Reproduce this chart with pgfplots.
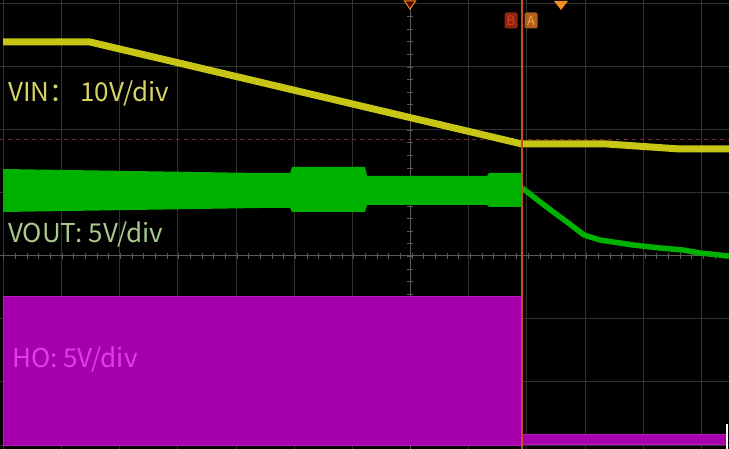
\documentclass[border=0pt]{standalone}
\usepackage{pgfplots}
\pgfplotsset{compat=1.18}
\usepackage{fontspec}
\setmainfont{Noto Sans CJK SC}
\definecolor{gridgray}{RGB}{50,50,50}
\definecolor{centergray}{RGB}{90,90,90}
\definecolor{vinc}{RGB}{200,198,20}
\definecolor{vinlab}{RGB}{214,212,100}
\definecolor{voutc}{RGB}{0,178,0}
\definecolor{voutlab}{RGB}{168,200,140}
\definecolor{hoc}{RGB}{166,0,172}
\definecolor{hoedge}{RGB}{190,20,196}
\definecolor{holab}{RGB}{226,60,230}
\definecolor{cursorc}{RGB}{200,74,40}
\definecolor{dashc}{RGB}{125,40,40}
\definecolor{trigc}{RGB}{240,140,32}
\definecolor{boxB}{RGB}{140,40,16}
\definecolor{boxBt}{RGB}{214,64,32}
\definecolor{boxA}{RGB}{176,96,26}
\definecolor{boxAt}{RGB}{240,168,70}
\begin{document}
\begin{tikzpicture}
\path[use as bounding box] (0,0) rectangle (729pt,449pt);
\begin{axis}[
  at={(0,0)}, anchor=south west,
  scale only axis, width=729pt, height=449pt,
  xmin=0, xmax=729, ymin=0, ymax=449, y dir=reverse,
  axis background/.style={fill=black},
  axis line style={draw=none},
  xtick={3,61.3,119.6,177.9,236.2,294.5,352.8,410.1,468.4,526.7,585,643.3,701.6},
  ytick={3,66.1,129.3,192.4,255.6,318.7,381.9,445},
  xticklabels={}, yticklabels={},
  tick style={draw=none},
  grid=major,
  major grid style={color=gridgray, line width=0.9pt},
  clip=true,
]
% center lines with small ticks
\draw[centergray, line width=0.8pt] (axis cs:0,255.6) -- (axis cs:729,255.6);
\draw[centergray, line width=0.8pt] (axis cs:410.1,0) -- (axis cs:410.1,449);
\draw[centergray, line width=6pt, dash pattern=on 0.9pt off 10.76pt, dash phase=-0.45pt]
  (axis cs:3,255.6) -- (axis cs:729,255.6);
\draw[centergray, line width=6pt, dash pattern=on 0.9pt off 11.73pt, dash phase=-0.45pt]
  (axis cs:410.1,3) -- (axis cs:410.1,449);
% dashed reference level
\draw[dashc, line width=1pt, dash pattern=on 4pt off 4pt] (axis cs:0,140) -- (axis cs:729,140);

% HO
\addplot[draw=hoedge, line width=1pt, fill=hoc] coordinates {
 (3,297) (522,297) (522,445) (3,445)} -- cycle;
\addplot[draw=hoedge, line width=1pt, fill=hoc] coordinates {
 (522,434.5) (726,434.5) (726,444) (522,444)} -- cycle;

% VOUT band
\addplot[draw=none, fill=voutc] coordinates {
 (3,169) (260,173) (290,173) (292,167) (365,167) (367,176) (487,176) (489,173) (522,173)
 (522,207) (489,207) (487,205) (367,205) (365,212) (292,212) (290,208) (260,208) (3,212)} -- cycle;
% VOUT decay
\addplot[voutc, line width=5.5pt, line join=round] coordinates {
 (522,188) (530,194) (540,202) (552,211) (567,222) (584,235) (600,240) (633,245) (660,248) (683,250) (700,253) (729,256)};

% VIN
\addplot[vinc, line width=7pt] coordinates {
 (3,42) (90,42) (522,144) (607,144) (680,149) (729,149)};

% cursor
\draw[cursorc, line width=1.2pt] (axis cs:522,0) -- (axis cs:522,449);
% right edge white mark
\draw[white, line width=1.2pt] (axis cs:727,424) -- (axis cs:727,449);

% top markers
\addplot[draw=trigc, fill=black!70!red, line width=1pt] coordinates {(404.5,1) (415.5,1) (410,9)} -- cycle;
\addplot[draw=none, fill=trigc] coordinates {(554,1) (568,1) (561,10)} -- cycle;
\node[fill=boxB, rounded corners=1.5pt, inner sep=0pt, minimum width=13pt, minimum height=16pt,
  text=boxBt, font=\fontsize{13}{13}\selectfont] at (axis cs:511,20.5) {B};
\node[fill=boxA, rounded corners=1.5pt, inner sep=0pt, minimum width=13pt, minimum height=16pt,
  text=boxAt, font=\fontsize{13}{13}\selectfont] at (axis cs:531,20.5) {A};

% labels
\node[anchor=base west, inner sep=0pt, text=vinlab, font=\fontsize{26}{30}\selectfont] at (axis cs:8,102) {VIN：\hspace{5pt}10V/div};
\node[anchor=base west, inner sep=0pt, text=voutlab, font=\fontsize{26}{30}\selectfont] at (axis cs:8,243) {VOUT: 5V/div};
\node[anchor=base west, inner sep=0pt, text=holab, font=\fontsize{26}{30}\selectfont] at (axis cs:12,367) {HO: 5V/div};
\end{axis}
\end{tikzpicture}
\end{document}
